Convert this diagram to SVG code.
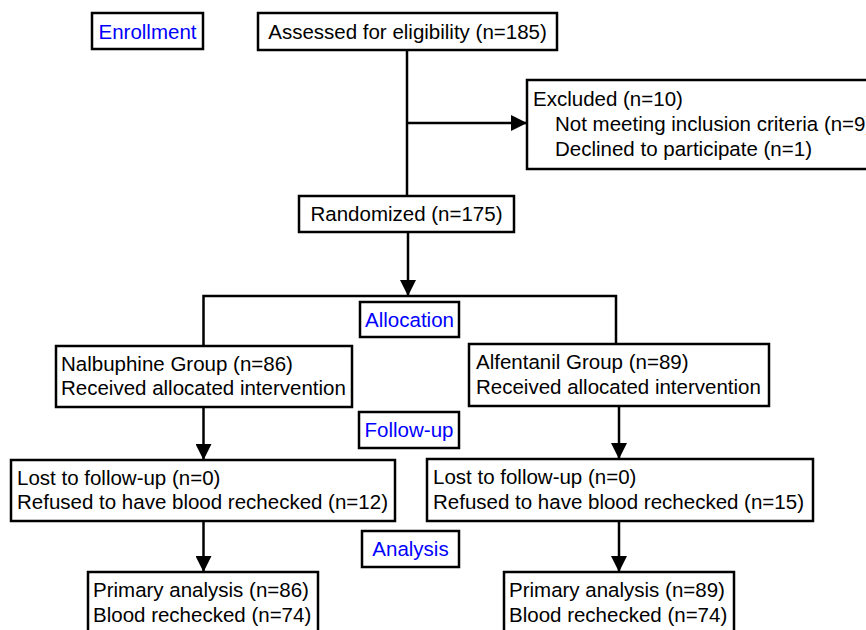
<svg xmlns="http://www.w3.org/2000/svg" width="866" height="630" viewBox="0 0 866 630">
<style>
  .box { fill: #fff; stroke: #000; stroke-width: 2.5; }
  .t { font-family: "Liberation Sans", Arial, sans-serif; font-size: 20.5px; fill: #000; }
  .lbl { font-family: "Liberation Sans", Arial, sans-serif; font-size: 20.5px; fill: #0000ff; text-anchor: middle; }
  .c { fill: none; stroke: #000; stroke-width: 2.5; }
</style>
<defs>
  <marker id="ah" markerUnits="userSpaceOnUse" markerWidth="17" markerHeight="16" refX="16" refY="8" orient="auto">
    <path d="M0,0 L16,8 L0,16 Z" fill="#000"/>
  </marker>
</defs>
<rect width="866" height="630" fill="#fff"/>
<g id="connectors">
  <path class="c" d="M407,50 V196"/>
  <path class="c" d="M407,123 H527" marker-end="url(#ah)"/>
  <path class="c" d="M408,232 V296" marker-end="url(#ah)"/>
  <path class="c" d="M203.5,346 V296 H616 V344"/>
  <path class="c" d="M203.5,407 V460" marker-end="url(#ah)"/>
  <path class="c" d="M619,406 V459" marker-end="url(#ah)"/>
  <path class="c" d="M203.5,521 V572" marker-end="url(#ah)"/>
  <path class="c" d="M619,521 V572" marker-end="url(#ah)"/>
</g>
<g id="enrollment">
  <rect class="box" x="92" y="13" width="111" height="36"/>
  <text class="lbl" x="147.5" y="38.5">Enrollment</text>
</g>
<g id="assessed">
  <rect class="box" x="258" y="13" width="299" height="37"/>
  <text class="t" x="407.5" y="38.5" text-anchor="middle">Assessed for eligibility (n=185)</text>
</g>
<g id="excluded">
  <rect class="box" x="527" y="80" width="360" height="89"/>
  <text class="t" x="533" y="106">Excluded (n=10)</text>
  <text class="t" x="555" y="131">Not meeting inclusion criteria (n=9)</text>
  <text class="t" x="555" y="156">Declined to participate (n=1)</text>
</g>
<g id="randomized">
  <rect class="box" x="299" y="196" width="215" height="36"/>
  <text class="t" x="406.5" y="221" text-anchor="middle">Randomized (n=175)</text>
</g>
<g id="allocation">
  <rect class="box" x="360" y="302" width="99" height="35"/>
  <text class="lbl" x="409.5" y="327">Allocation</text>
</g>
<g id="nalbuphine">
  <rect class="box" x="56" y="346" width="296" height="61"/>
  <text class="t" x="61" y="371">Nalbuphine Group (n=86)</text>
  <text class="t" x="61" y="395">Received allocated intervention</text>
</g>
<g id="alfentanil">
  <rect class="box" x="469" y="344" width="300" height="62"/>
  <text class="t" x="476" y="369">Alfentanil Group (n=89)</text>
  <text class="t" x="476" y="394">Received allocated intervention</text>
</g>
<g id="followup">
  <rect class="box" x="359" y="412" width="100" height="36"/>
  <text class="lbl" x="409" y="437">Follow-up</text>
</g>
<g id="lost-left">
  <rect class="box" x="11" y="460" width="384" height="61"/>
  <text class="t" x="17" y="485">Lost to follow-up (n=0)</text>
  <text class="t" x="17" y="509">Refused to have blood rechecked (n=12)</text>
</g>
<g id="lost-right">
  <rect class="box" x="427" y="459" width="386" height="62"/>
  <text class="t" x="433" y="484">Lost to follow-up (n=0)</text>
  <text class="t" x="433" y="509">Refused to have blood rechecked (n=15)</text>
</g>
<g id="analysis">
  <rect class="box" x="362" y="531" width="97" height="36"/>
  <text class="lbl" x="410.5" y="556">Analysis</text>
</g>
<g id="primary-left">
  <rect class="box" x="88" y="572" width="230" height="70"/>
  <text class="t" x="93" y="597">Primary analysis (n=86)</text>
  <text class="t" x="93" y="622">Blood rechecked (n=74)</text>
</g>
<g id="primary-right">
  <rect class="box" x="504" y="572" width="230" height="70"/>
  <text class="t" x="509" y="597">Primary analysis (n=89)</text>
  <text class="t" x="509" y="622">Blood rechecked (n=74)</text>
</g>
</svg>
